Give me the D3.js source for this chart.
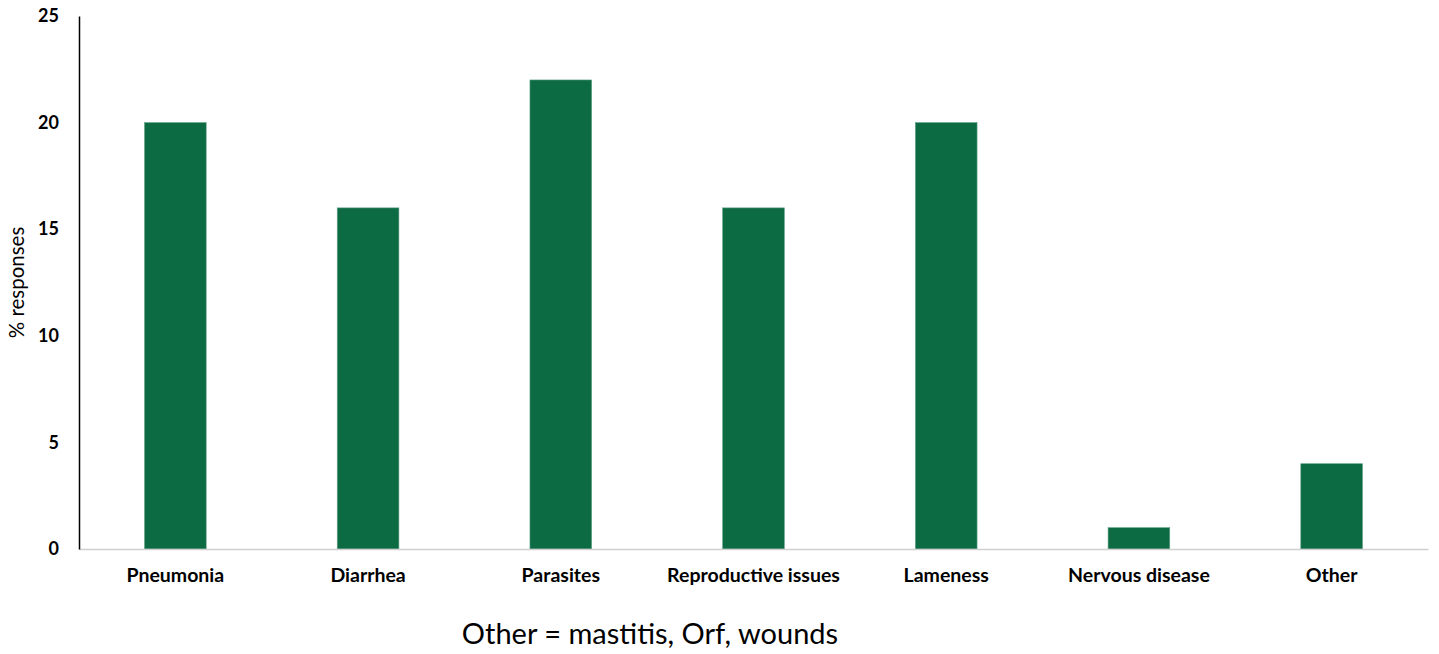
<!DOCTYPE html>
<html><head><meta charset="utf-8">
<script src="https://cdn.jsdelivr.net/npm/d3@7"></script>
<style>body{margin:0;background:#fff;}svg{display:block;}</style>
</head><body>
<svg id="c" width="1439" height="654"></svg>
<script>
const categories = ["Pneumonia","Diarrhea","Parasites","Reproductive issues","Lameness","Nervous disease","Other"];
const values = [20,16,22,16,20,1,4];
const yTicks = [0,5,10,15,20,25];
const yLabel = "% responses";
const footnote = "Other = mastitis, Orf, wounds";

(function(){
const svg = d3.select("#c");
const mLeft = 79, mRight = 1428, mTop = 16, mBottom = 549;
const font = "Lato, 'Open Sans', sans-serif";

const x = d3.scaleBand().domain(categories).range([mLeft, mRight]).paddingInner(0.68).paddingOuter(0.34);
const y = d3.scaleLinear().domain([0,25]).range([mBottom, mTop]);

svg.append("g").selectAll("rect").data(values).join("rect")
  .attr("x", (d,i)=>x(categories[i]))
  .attr("y", d=>y(d))
  .attr("width", x.bandwidth())
  .attr("height", d=>y(0)-y(d))
  .attr("fill", "#0d6b44")
  .attr("stroke", "#5f9f83").attr("stroke-width", 0.6);

const xa = svg.append("g").attr("transform", `translate(0,${mBottom})`)
  .call(d3.axisBottom(x).tickSize(0).tickPadding(19));
xa.select(".domain").attr("stroke", "#d0d0d0").attr("stroke-width", 1.5);
xa.selectAll("text").attr("font-family", font).attr("font-weight", "bold")
  .attr("font-size", 19.5).attr("fill", "#000");

const ya = svg.append("g").attr("transform", `translate(${mLeft},0)`)
  .call(d3.axisLeft(y).tickValues(yTicks).tickSize(0).tickPadding(20));
ya.select(".domain").attr("stroke", "#000").attr("stroke-width", 1.5);
ya.selectAll("text").attr("font-family", font).attr("font-weight", "bold")
  .attr("font-size", 18).attr("fill", "#000");

svg.append("text").attr("transform", `translate(24,${(mTop+mBottom)/2}) rotate(-90)`)
  .attr("text-anchor","middle").attr("font-family", font).attr("font-size", 20.5)
  .attr("fill","#000").text(yLabel);

svg.append("text").attr("x", 650).attr("y", 644).attr("text-anchor","middle")
  .attr("font-family", font).attr("font-size", 29).attr("fill","#000").text(footnote);
})();
</script>
</body></html>
